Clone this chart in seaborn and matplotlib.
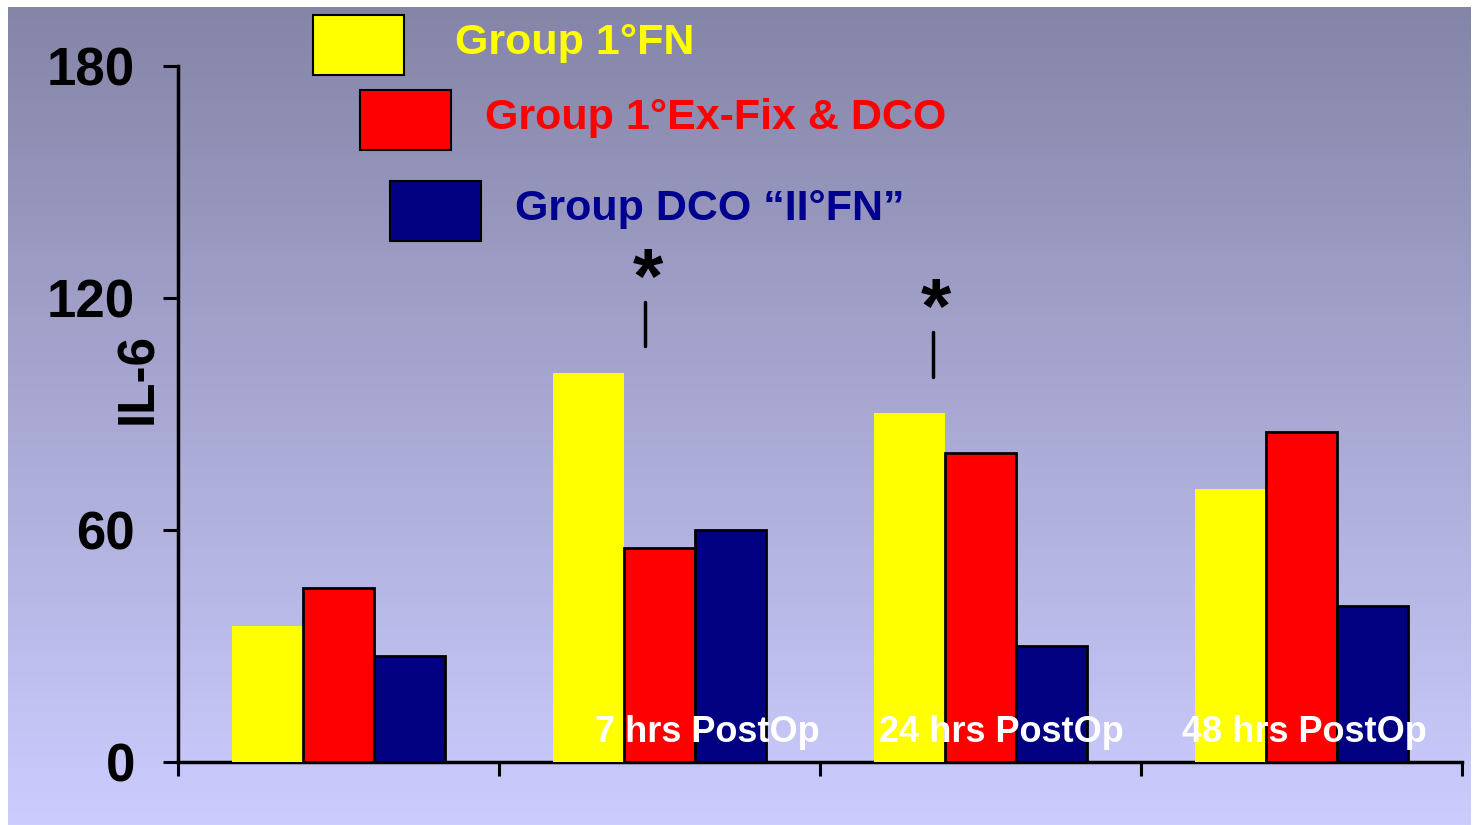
import numpy as np
import pandas as pd
import matplotlib
matplotlib.use("Agg")
import matplotlib.pyplot as plt
import seaborn as sns
from matplotlib.patches import Rectangle

# data
times = ["PreOp", "7 hrs PostOp", "24 hrs PostOp", "48 hrs PostOp"]
time_labels = ["", "7 hrs PostOp", "24 hrs PostOp", "48 hrs PostOp"]
groups = ["Group 1°FN", "Group 1°Ex-Fix & DCO", "Group DCO “II°FN”"]
fn_vals = [35.2, 100.6, 90.3, 70.6]
exfix_vals = [45.0, 55.3, 79.9, 85.3]
dco_vals = [27.4, 60.0, 30.0, 40.3]
yticks = [0, 60, 120, 180]

bar_colors = ["#FFFF00", "#FF0000", "#000080"]
text_colors = ["#FFFF00", "#FF0000", "#000090"]

df = pd.DataFrame({
    "time": times * 3,
    "IL6": fn_vals + exfix_vals + dco_vals,
    "group": [groups[0]] * 4 + [groups[1]] * 4 + [groups[2]] * 4,
})

sns.set_style("white")
plt.rcParams["font.family"] = ["Liberation Sans", "DejaVu Sans"]
plt.rcParams["text.color"] = "black"

fig = plt.figure(figsize=(14.73, 8.25), dpi=100)
fig.patch.set_facecolor("white")

# gradient background
bg = fig.add_axes([8 / 1473, 0, 1462 / 1473, 818 / 825], zorder=-5)
top = np.array([0x85, 0x85, 0xA8]) / 255
bot = np.array([0xCC, 0xCC, 0xFF]) / 255
t = np.linspace(0, 1, 256)[:, None]
grad = top[None, :] * (1 - t) + bot[None, :] * t
bg.imshow(grad[:, None, :].repeat(2, axis=1), aspect="auto", extent=[0, 1, 0, 1])
bg.set_axis_off()

ax = fig.add_axes([178 / 1473, 63 / 825, 1284 / 1473, 696 / 825])
ax.patch.set_alpha(0)

sns.barplot(data=df, x="time", y="IL6", hue="group", palette=bar_colors,
            width=0.665, saturation=1, legend=False, ax=ax, zorder=3)

for p in ax.patches:
    fc = p.get_facecolor()
    if fc[0] > 0.9 and fc[1] > 0.9:
        p.set_edgecolor("none")
    else:
        p.set_edgecolor("black")
        p.set_linewidth(2)

ax.set_xlim(-0.5, 3.5)
ax.set_ylim(0, 180)
ax.set_yticks(yticks)
ax.set_yticklabels([str(v) for v in yticks], fontsize=38, fontweight="bold", color="black")
ax.tick_params(axis="y", direction="out", length=11, width=2.2, pad=20, left=True,
               colors="black")
ax.set_xticks(range(4))
ax.set_xticklabels([])
ax.tick_params(axis="x", which="major", length=0)
ax.set_xticks([-0.5, 0.5, 1.5, 2.5, 3.5], minor=True)
ax.tick_params(axis="x", which="minor", direction="out", length=10, width=2.2,
               bottom=True, colors="black")
ax.set_xlabel("")
ax.set_ylabel("")
for s in ["top", "right"]:
    ax.spines[s].set_visible(False)
for s in ["left", "bottom"]:
    ax.spines[s].set_linewidth(2.5)
    ax.spines[s].set_color("black")

# category labels inside the plot
label_offsets = [0, 0.148, 0.064, 0.008]
for i, lab in enumerate(time_labels):
    if lab:
        ax.text(i + label_offsets[i], 7.6, lab, color="white", fontsize=26,
                fontweight="bold", ha="center", va="center", zorder=5)

# significance marks
for xs, y0, y1, ys in [(0.955, 107.6, 119.0, 124.0), (1.852, 99.6, 111.2, 116.2)]:
    ax.plot([xs, xs], [y0, y1], color="black", lw=2.5, zorder=5)
    ax.text(xs + 0.01, ys, "*", fontsize=56, fontweight="bold", ha="center",
            va="center", color="black", zorder=5)

fig.text(139 / 1473, 1 - 378 / 825, "IL-6", rotation=90, fontsize=37,
         fontweight="bold", ha="center", va="center", color="black")

# staggered legend
legend_boxes = [(313, 15), (360, 90), (390, 181)]
legend_text_x = [455, 485, 515]
for (bx, by), tx, g, bc, tc in zip(legend_boxes, legend_text_x, groups, bar_colors, text_colors):
    fig.patches.append(Rectangle((bx / 1473, 1 - (by + 60) / 825), 91 / 1473, 60 / 825,
                                 transform=fig.transFigure, facecolor=bc,
                                 edgecolor="black", lw=1.5))
    fig.text(tx / 1473, 1 - (by + 28) / 825, g, color=tc, fontsize=31,
             fontweight="bold", ha="left", va="center")

fig.savefig("out.png", dpi=100)
